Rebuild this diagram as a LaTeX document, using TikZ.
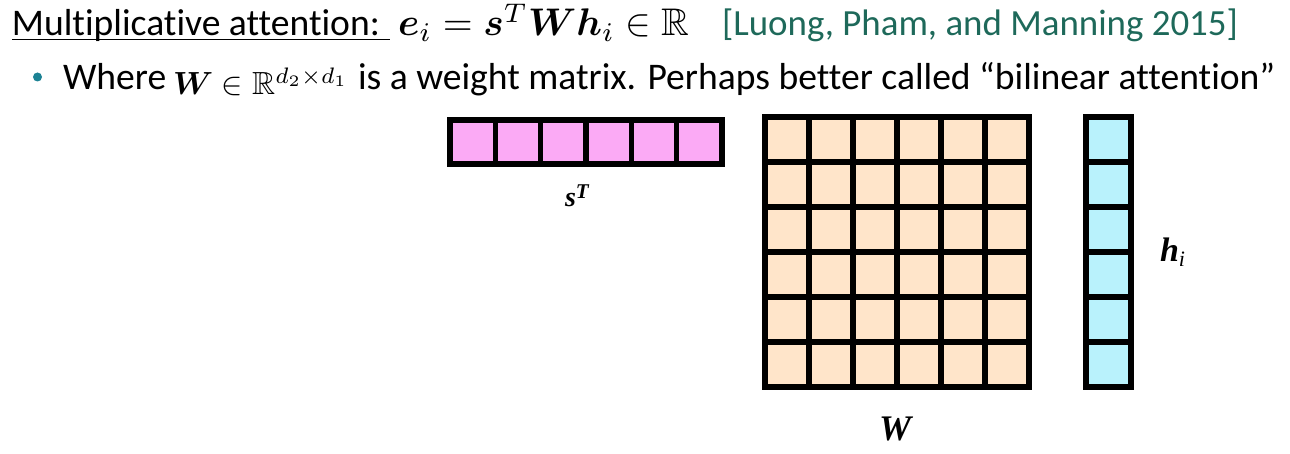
\documentclass[tikz,border=0pt]{standalone}
\usepackage{fontspec}
\setmainfont{Carlito}[Ligatures=NoCommon]
\newfontfamily\lblfont{Liberation Serif}
\usepackage{amsmath,amssymb,bm}
\definecolor{citecol}{RGB}{30,105,90}
\definecolor{bulletcol}{RGB}{28,130,148}
\definecolor{pinkcell}{RGB}{251,170,245}
\definecolor{peachcell}{RGB}{255,229,202}
\definecolor{cyancell}{RGB}{185,242,252}
\tikzset{
  txt/.style={anchor=base west, inner sep=0pt, outer sep=0pt, font=\fontsize{37.6}{40}\selectfont},
  mathx/.style={anchor=base west, inner sep=0pt, outer sep=0pt},
  lbl/.style={anchor=base west, inner sep=0pt, outer sep=0pt, font=\lblfont},
  cellS/.style={draw=black, fill=pinkcell, line width=5.5pt},
  cellW/.style={draw=black, fill=peachcell, line width=6pt},
  cellH/.style={draw=black, fill=cyancell, line width=6pt},
}
\begin{document}
\begin{tikzpicture}[x=1pt,y=-1pt]
\useasboundingbox (0,0) rectangle (1290,454);
% line 1
\node[txt] (title) at (12,36) {Multiplicative attention:};
\coordinate (ulend) at ([xshift=10pt,yshift=-3.5pt]title.base east);
\draw[line width=1.8pt] ([yshift=-3.5pt]title.base west) -- (ulend);
\node[mathx] (eq) at (398,36) {\scalebox{3.85}{$\bm{e}_i = \bm{s}^T\bm{W}\bm{h}_i \in \mathbb{R}$}};
\node[txt, text=citecol, font=\fontsize{36.9}{40}\selectfont] (cite) at (722,36) {[Luong, Pham, and Manning 2015]};
% line 2
\fill[bulletcol] (37.5,77) circle (4.5);
\node[txt] (where) at (63,90) {Where};
\node[mathx] (wdef) at (173,95) {\scalebox{3.2}{$\bm{W} \in \mathbb{R}^{d_2\times d_1}$}};
\node[txt] (rest) at (358,90) {is a weight matrix. Perhaps better called “bilinear attention”};
% s^T row vector
\foreach \i in {0,...,5} {
  \draw[cellS] ({450+45.33*\i},120) rectangle ++(45.33,44);
}
% W matrix
\foreach \i in {0,...,5} {
  \foreach \j in {0,...,5} {
    \draw[cellW] ({765+44*\i},{117+45*\j}) rectangle ++(44,45);
  }
}
% h column vector
\foreach \j in {0,...,5} {
  \draw[cellH] (1086,{117+45*\j}) rectangle ++(45,45);
}
% labels
\node[lbl] (sl) at (565,207) {\fontsize{28}{30}\selectfont\textbf{\textit{s}}\raisebox{8pt}{\fontsize{21}{23}\selectfont\textbf{\textit{T}}}};
\node[lbl] (wl) at (879,440) {\fontsize{36}{38}\selectfont\textbf{\textit{W}}};
\node[lbl] (hl) at (1160,262) {\fontsize{34}{36}\selectfont\textbf{\textit{h}}\raisebox{-5pt}{\fontsize{22}{24}\selectfont\textit{i}}};
\end{tikzpicture}
\end{document}
